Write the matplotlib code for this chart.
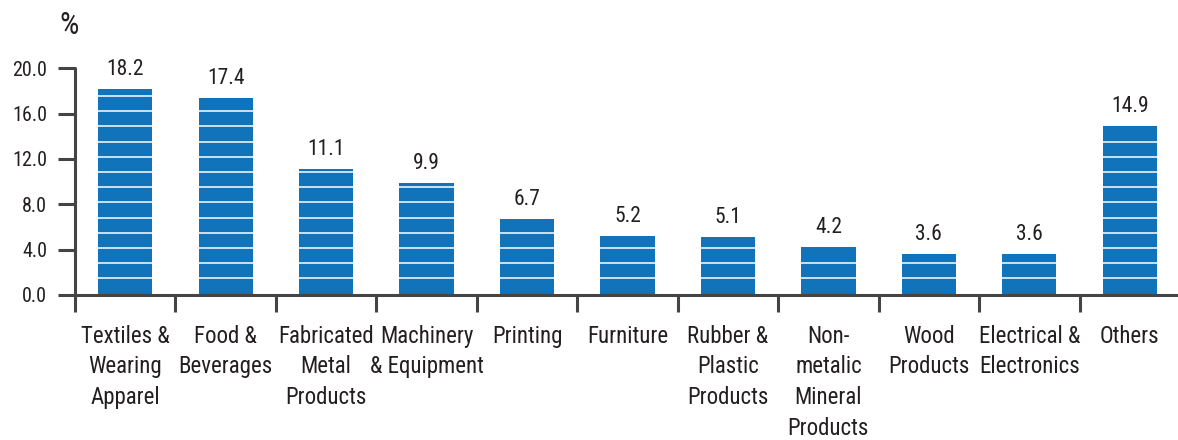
import matplotlib
matplotlib.use("Agg")
import matplotlib.pyplot as plt
import numpy as np

# Share of establishments by industry group (%)
categories = [
    "Textiles &\nWearing\nApparel",
    "Food &\nBeverages",
    "Fabricated\nMetal\nProducts",
    "Machinery\n& Equipment",
    "Printing",
    "Furniture",
    "Rubber &\nPlastic\nProducts",
    "Non-\nmetalic\nMineral\nProducts",
    "Wood\nProducts",
    "Electrical &\nElectronics",
    "Others",
]
shares = [18.2, 17.4, 11.1, 9.9, 6.7, 5.2, 5.1, 4.2, 3.6, 3.6, 14.9]
y_ticks = [0.0, 4.0, 8.0, 12.0, 16.0, 20.0]
y_unit = "%"

BAR_COLOR = "#1173ba"
AXIS_COLOR = "#444444"
TEXT_COLOR = "#231f20"
FONT = "Roboto Condensed"
STRIPE_START = 1.47
STRIPE_STEP = 1.34

plt.rcParams["font.family"] = [FONT, "DejaVu Sans"]

fig = plt.figure(figsize=(11.78, 4.4), dpi=100)
ax = fig.add_axes([75 / 1178, 1 - 295 / 440, 1105 / 1178, 226.7 / 440])

x = np.arange(len(categories))
bar_w = 0.54
ax.bar(x, shares, width=bar_w, color=BAR_COLOR, zorder=2)

# thin white stripes across each bar
for xi, v in zip(x, shares):
    ys = np.arange(STRIPE_START, v - 0.2, STRIPE_STEP)
    ax.hlines(ys, xi - bar_w / 2, xi + bar_w / 2, colors="white", linewidth=1.1, zorder=3)

# value labels
for xi, v in zip(x, shares):
    ax.text(xi, v + 0.8, f"{v:.1f}", ha="center", va="bottom",
            fontsize=15.5, color=TEXT_COLOR, clip_on=False)

ax.set_xlim(-0.5, len(categories) - 0.5)
ax.set_ylim(0, 20)

for side in ("top", "right"):
    ax.spines[side].set_visible(False)
for side in ("left", "bottom"):
    ax.spines[side].set_color(AXIS_COLOR)
    ax.spines[side].set_linewidth(2.2)
    ax.spines[side].set_capstyle("round")
ax.spines["bottom"].set_zorder(4)

ax.set_yticks(y_ticks)
ax.set_yticklabels([f"{t:.1f}" for t in y_ticks])
ax.tick_params(axis="y", direction="out", length=12, width=2.2, color=AXIS_COLOR,
               pad=8, labelsize=14.5, labelcolor=TEXT_COLOR)

# category labels centred under bars, boundary ticks between categories
ax.set_xticks(x)
ax.set_xticklabels(categories, ha="center", va="top", linespacing=1.42)
ax.tick_params(axis="x", which="major", length=0, pad=21.5, labelsize=16.5,
               labelcolor=TEXT_COLOR)
ax.set_xticks(np.arange(-0.5, len(categories), 1.0), minor=True)
ax.tick_params(axis="x", which="minor", direction="out", length=12.5, width=2.2,
               color=AXIS_COLOR)
for t in ax.xaxis.get_minorticklines() + ax.yaxis.get_majorticklines():
    t.set_solid_capstyle("round")
    t.set_dash_capstyle("round")

fig.text(69 / 1178, 1 - 25 / 440, y_unit, ha="center", va="center",
         fontsize=22, color=TEXT_COLOR)

fig.savefig("out.png", dpi=100)
